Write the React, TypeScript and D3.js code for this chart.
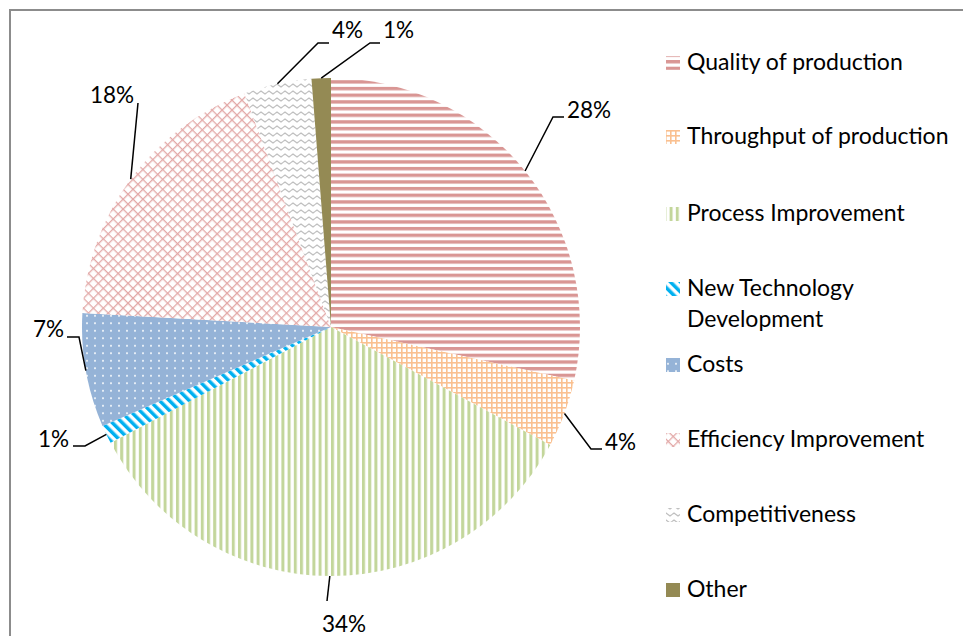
import React from "react";
import * as d3 from "d3";

const categories = [
  "Quality of production",
  "Throughput of production",
  "Process Improvement",
  "New Technology Development",
  "Costs",
  "Efficiency Improvement",
  "Competitiveness",
  "Other",
];
const values = [28.45, 4.4, 34.45, 1.2, 7.4, 18.45, 4.4, 1.25];
const legendLines = [
  ["Quality of production"],
  ["Throughput of production"],
  ["Process Improvement"],
  ["New Technology", "Development"],
  ["Costs"],
  ["Efficiency Improvement"],
  ["Competitiveness"],
  ["Other"],
];
const patternIds = ["pQ", "pT", "pP", "pN", "pC", "pE", "pK", "pO"];

// label layout (elbow, end of leader line, text position & anchor)
const labelLayout = [
  { elbow: [553, 117], end: [564, 117], tx: 567, ty: 118, anchor: "start" },
  { elbow: [591, 449], end: [602, 449], tx: 605, ty: 450, anchor: "start" },
  { elbow: [327, 601], end: [327, 601], tx: 344, ty: 632, anchor: "middle" },
  { elbow: [85, 446], end: [73, 446], tx: 69, ty: 447, anchor: "end" },
  { elbow: [79, 337], end: [67, 337], tx: 64, ty: 337, anchor: "end" },
  { elbow: [138, 103], end: [138, 103], tx: 112, ty: 103, anchor: "middle" },
  { elbow: [318, 43], end: [329, 43], tx: 332, ty: 38, anchor: "start" },
  { elbow: [370, 43], end: [380, 43], tx: 383, ty: 38, anchor: "start" },
];

const legendBaselines = [70, 144, 221, 296, 372, 447, 522, 597];

export default function App() {
  const cx = 331;
  const cy = 327;
  const R = 249;
  const total = d3.sum(values);
  const pie = d3.pie<number>().sort(null).value((d) => d).startAngle(0).endAngle(2 * Math.PI);
  const arcs = pie(values);
  const arc = d3.arc<d3.PieArcDatum<number>>().innerRadius(0).outerRadius(R);
  const font = "Lato, 'Open Sans', sans-serif";

  return (
    <svg
      width={963}
      height={636}
      style={{ position: "absolute", left: 0, top: 0, background: "#fff" }}
    >
      <defs>
        <pattern id="pQ" patternUnits="userSpaceOnUse" width={8} height={6.67}>
          <rect width={8} height={6.67} fill="#fff" />
          <rect width={8} height={3.4} fill="#D99694" />
        </pattern>
        <pattern id="pT" patternUnits="userSpaceOnUse" width={5} height={5}>
          <rect width={5} height={5} fill="#fff" />
          <rect width={1.6} height={5} fill="#FAC090" />
          <rect width={5} height={1.6} fill="#FAC090" />
        </pattern>
        <pattern id="pP" patternUnits="userSpaceOnUse" width={6.2} height={8}>
          <rect width={6.2} height={8} fill="#fff" />
          <rect width={3} height={8} fill="#C3D69B" />
        </pattern>
        <pattern id="pN" patternUnits="userSpaceOnUse" width={7} height={7} patternTransform="rotate(-45)">
          <rect width={7} height={7} fill="#fff" />
          <rect width={3.5} height={7} fill="#00B0F0" />
        </pattern>
        <pattern id="pC" patternUnits="userSpaceOnUse" width={8} height={7.5}>
          <rect width={8} height={7.5} fill="#95B3D7" />
          <circle cx={4} cy={3.75} r={1} fill="#fff" />
        </pattern>
        <pattern id="pE" patternUnits="userSpaceOnUse" width={7} height={7} patternTransform="rotate(45)">
          <rect width={7} height={7} fill="#fff" />
          <rect width={1.3} height={7} fill="#E3A9A8" />
          <rect width={7} height={1.3} fill="#E3A9A8" />
        </pattern>
        <pattern id="pK" patternUnits="userSpaceOnUse" width={8} height={7}>
          <rect width={8} height={7} fill="#fff" />
          <path d="M0 3.5 L2 2 L4 3.5 L6 5 L8 3.5" fill="none" stroke="#BFBFBF" strokeWidth={1.2} />
        </pattern>
        <pattern id="pO" patternUnits="userSpaceOnUse" width={8} height={8}>
          <rect width={8} height={8} fill="#948A54" />
        </pattern>
      </defs>

      <rect x={10} y={10} width={1000} height={700} fill="none" stroke="#8C8C8C" strokeWidth={2} />

      <g transform={`translate(${cx},${cy})`}>
        {arcs.map((a, i) => (
          <path key={categories[i]} d={arc(a) || ""} fill={`url(#${patternIds[i]})`} />
        ))}
      </g>

      {arcs.map((a, i) => {
        const mid = (a.startAngle + a.endAngle) / 2;
        const sx = cx + R * Math.sin(mid);
        const sy = cy - R * Math.cos(mid);
        const L = labelLayout[i];
        const pct = Math.round((values[i] / total) * 100) + "%";
        return (
          <g key={"lbl" + i}>
            <polyline
              points={`${sx},${sy} ${L.elbow[0]},${L.elbow[1]} ${L.end[0]},${L.end[1]}`}
              fill="none"
              stroke="#000"
              strokeWidth={1.5}
            />
            <text
              x={L.tx}
              y={L.ty}
              textAnchor={L.anchor as any}
              fontFamily={font}
              fontSize={22.5}
              fill="#000"
            >
              {pct}
            </text>
          </g>
        );
      })}

      {legendLines.map((lines, i) => (
        <g key={"leg" + i}>
          <rect
            x={666}
            y={legendBaselines[i] - 14}
            width={14}
            height={14}
            fill={`url(#${patternIds[i]})`}
          />
          <text x={687} y={legendBaselines[i]} fontFamily={font} fontSize={23} fill="#000">
            {lines.map((t, j) => (
              <tspan key={j} x={687} dy={j === 0 ? 0 : 31}>
                {t}
              </tspan>
            ))}
          </text>
        </g>
      ))}
    </svg>
  );
}
